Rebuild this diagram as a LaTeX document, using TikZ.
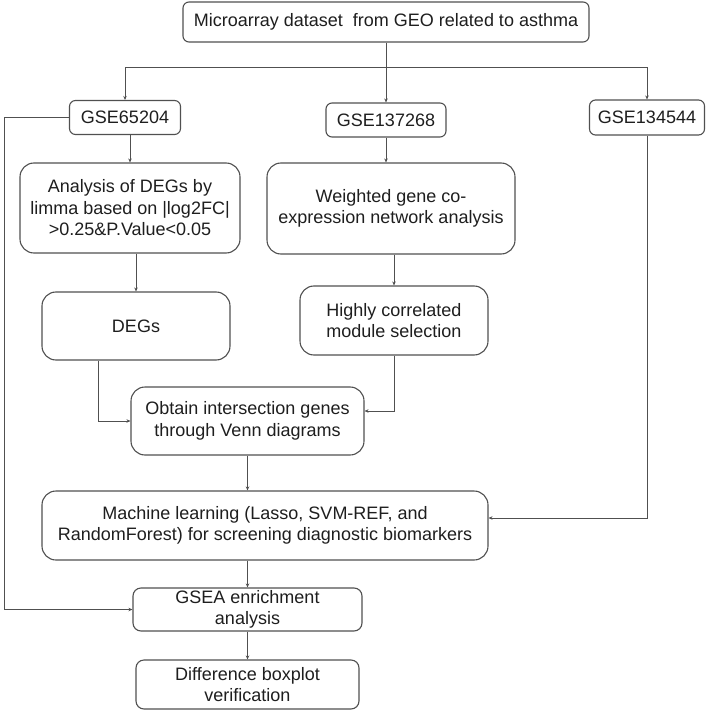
\documentclass[tikz,border=0pt]{standalone}
\usepackage{fontspec}
\setmainfont{Liberation Sans}
\usetikzlibrary{arrows.meta,positioning,calc}
\definecolor{ln}{HTML}{505050}
\definecolor{tx}{HTML}{1E1E1E}
\tikzset{sb/.style={draw=ln,line width=1.1pt,rounded corners=6pt,align=center,text=tx,inner sep=2pt},
 lb/.style={sb,rounded corners=14pt},
 flow/.style={-{Stealth[length=4pt,width=3.5pt]},draw=ln,line width=1pt},wire/.style={draw=ln,line width=1pt}}
\begin{document}
\begin{tikzpicture}[x=1pt,y=-1pt,font=\fontsize{18}{21.5}\selectfont]
\useasboundingbox (0,0) rectangle (708,711);
\node[sb,minimum width=406,minimum height=40](top) at (386,22){Microarray dataset\ \ from GEO related to asthma};
\node[sb,minimum width=111,minimum height=34](g1) at (125,117.5){GSE65204};
\node[sb,minimum width=120,minimum height=34](g2) at (386,120){GSE137268};
\node[sb,minimum width=115,minimum height=35](g3) at (647,117.5){GSE134544};
\node[lb,minimum width=220,minimum height=90](ana) at (130,208){Analysis of DEGs by\\limma based on |log2FC|\\>0.25\&P.Value<0.05};
\node[lb,minimum width=248,minimum height=91](wgc) at (391,208.5){Weighted gene co-\\expression network analysis};
\node[lb,minimum width=188,minimum height=68](degs) at (136,326){DEGs};
\node[lb,minimum width=188,minimum height=69](hcm) at (394,320.5){Highly correlated\\module selection};
\node[lb,minimum width=233,minimum height=68](obt) at (247.5,421){Obtain intersection genes\\through Venn diagrams};
\node[lb,minimum width=446,minimum height=69](ml) at (265,525.5){Machine learning (Lasso, SVM-REF, and\\RandomForest) for screening diagnostic biomarkers};
\node[sb,rounded corners=8pt,minimum width=229,minimum height=43](gsea) at (247.5,609.5){GSEA enrichment\\analysis};
\node[sb,rounded corners=8pt,minimum width=223,minimum height=49](diff) at (247.5,684.5){Difference boxplot\\verification};
% split from the dataset box
\coordinate(sp) at (386,68);\coordinate(lft) at (4,117.5);
\draw[wire](top)--(sp);\draw[flow](sp)-|(g1);\draw[flow](sp)--(g2);\draw[flow](sp)-|(g3);
\draw[flow](ana.north|-g1.south)--(ana.north);\draw[flow](g2)--(g2|-wgc.north);
\draw[flow](ana.south-|degs)--(degs);\draw[flow](wgc.south-|hcm)--(hcm);
\draw[flow]([xshift=-38pt]degs.south)|-(obt.west);\draw[flow](hcm.south)|-([yshift=10pt]obt.east);
\draw[flow](obt)--(obt|-ml.north);\draw[flow](g3.south)|-([yshift=7.5pt]ml.east);
\draw[flow](gsea|-ml.south)--(gsea);\draw[flow](gsea)--(diff);
\draw[flow](g1)--(lft)|-(gsea);
\end{tikzpicture}
\end{document}
